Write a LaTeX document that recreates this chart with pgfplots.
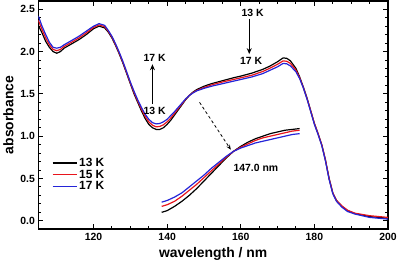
\documentclass[border=0pt]{standalone}
\usepackage{fontspec}
\setmainfont{Liberation Sans}
\usepackage{pgfplots}
\pgfplotsset{compat=1.18}
\usetikzlibrary{arrows.meta}
\definecolor{cA}{HTML}{000000}
\definecolor{cB}{HTML}{E8141C}
\definecolor{cC}{HTML}{2424D8}

\begin{document}
\begin{tikzpicture}
\begin{axis}[
  width=352pt, height=230pt, scale only axis,
  xmin=105, xmax=200, ymin=-0.1, ymax=2.6,
  xtick={120,140,160,180,200}, minor x tick num=3,
  ytick={0,0.5,1,1.5,2,2.5}, minor y tick num=4,
  tick align=inside, major tick length=5pt, minor tick length=3pt,
  axis line style={line width=1.6pt},
  every tick/.style={black, line width=1pt},
  xlabel={wavelength / nm}, ylabel={absorbance},
  label style={font=\bfseries\fontsize{14}{16}\selectfont},
  ticklabel style={font=\bfseries\fontsize{10.5}{12}\selectfont},
  /pgf/number format/assume math mode=true,
  yticklabel style={/pgf/number format/.cd, fixed, fixed zerofill, precision=1},
  xticklabel style={/pgf/number format/.cd, fixed, precision=0},
  legend style={at={(0.03,0.33)}, anchor=north west, draw=none, fill=none,
    font=\bfseries\fontsize{12}{14}\selectfont, row sep=-2pt},
  legend image code/.code={\draw[#1, line width=1.3pt] (0pt,0pt) -- (24pt,0pt);},
  legend cell align=left,
  every axis plot/.append style={line width=1.2pt},
]
% main spectra
\addplot[cA] table {
105 2.31
106 2.22
107 2.12
108 2.05
109 2.00
110 1.98
111 2.00
112 2.04
114 2.09
116 2.14
118 2.20
120 2.27
121.5 2.30
123 2.28
124 2.23
125 2.16
126 2.07
127 1.97
128 1.86
129 1.74
130 1.62
131 1.50
132 1.40
133 1.30
134 1.21
135 1.14
136 1.10
137 1.08
138 1.08
139 1.10
140 1.14
141 1.19
142 1.25
143 1.31
144 1.37
145 1.43
146 1.48
147 1.52
148 1.55
150 1.59
152 1.62
155 1.655
158 1.69
160 1.71
163 1.745
166 1.79
168 1.83
170 1.88
171.5 1.925
172.5 1.92
173.5 1.89
175 1.80
176 1.70
177 1.58
178 1.45
179 1.30
180 1.15
181 1.03
182 0.90
183 0.72
184 0.50
185 0.33
186 0.24
187.5 0.17
189 0.12
191 0.085
195 0.05
200 0.03
};
\addlegendentry{13 K}
\addplot[cB] table {
105 2.37
106 2.26
107 2.16
108 2.08
109 2.025
110 2.01
111 2.025
112 2.06
114 2.11
116 2.16
118 2.22
120 2.285
121.5 2.315
123 2.295
124 2.24
125 2.17
126 2.08
127 1.98
128 1.87
129 1.75
130 1.63
131 1.515
132 1.415
133 1.32
134 1.235
135 1.17
136 1.13
137 1.11
138 1.115
139 1.135
140 1.17
141 1.215
142 1.27
143 1.325
144 1.38
145 1.435
146 1.48
147 1.515
148 1.54
150 1.575
152 1.605
155 1.64
158 1.67
160 1.69
163 1.72
166 1.765
168 1.805
170 1.85
171.5 1.89
172.5 1.885
173.5 1.86
175 1.78
176 1.69
177 1.575
178 1.445
179 1.30
180 1.15
181 1.03
182 0.90
183 0.72
184 0.50
185 0.33
186 0.24
187.5 0.175
189 0.125
191 0.09
195 0.06
200 0.04
};
\addlegendentry{15 K}
\addplot[cC] table {
105 2.42
106 2.30
107 2.20
108 2.11
109 2.05
110 2.04
111 2.05
112 2.08
114 2.13
116 2.18
118 2.24
120 2.30
121.5 2.33
123 2.31
124 2.25
125 2.18
126 2.09
127 1.99
128 1.88
129 1.76
130 1.64
131 1.53
132 1.43
133 1.34
134 1.26
135 1.20
136 1.16
137 1.145
138 1.15
139 1.17
140 1.20
141 1.245
142 1.29
143 1.34
144 1.39
145 1.44
146 1.48
147 1.51
148 1.535
150 1.565
152 1.59
155 1.62
158 1.65
160 1.67
163 1.70
166 1.74
168 1.78
170 1.82
171.5 1.86
172.5 1.855
173.5 1.83
175 1.76
176 1.68
177 1.57
178 1.44
179 1.29
180 1.14
181 1.02
182 0.89
183 0.71
184 0.49
185 0.32
186 0.23
187.5 0.16
189 0.11
191 0.08
195 0.04
200 0.02
};
\addlegendentry{17 K}
% expanded copy below
\addplot[cA, forget plot] table {
138.5 0.10
140 0.12
142 0.17
144 0.23
146 0.30
148 0.38
150 0.47
152 0.56
154 0.65
156 0.74
158 0.82
160 0.88
162 0.93
164 0.97
166 1.00
168 1.03
170 1.05
172 1.07
174 1.08
176 1.09
};
\addplot[cB, forget plot] table {
138.5 0.17
140 0.19
142 0.23
144 0.29
146 0.36
148 0.43
150 0.51
152 0.59
154 0.67
156 0.75
158 0.82
160 0.87
162 0.91
164 0.95
166 0.98
168 1.00
170 1.02
172 1.04
174 1.06
176 1.07
};
\addplot[cC, forget plot] table {
138.5 0.22
140 0.24
142 0.28
144 0.33
146 0.40
148 0.47
150 0.54
152 0.62
154 0.69
156 0.76
158 0.82
160 0.86
162 0.89
164 0.92
166 0.94
168 0.96
170 0.98
172 1.00
174 1.02
176 1.03
};
% annotations
\begin{scope}[font=\bfseries\fontsize{10.5}{12}\selectfont]
\node at (axis cs:163.2,2.46) {13 K};
\draw[line width=1pt, -{Stealth[length=6pt,width=5pt]}] (axis cs:162.3,2.39) -- (axis cs:162.3,1.97);
\node at (axis cs:162.8,1.89) {17 K};
\node at (axis cs:136.6,1.93) {17 K};
\draw[line width=1pt, -{Stealth[length=6pt,width=5pt]}] (axis cs:136.0,1.38) -- (axis cs:136.0,1.85);
\node at (axis cs:136.6,1.30) {13 K};
\draw[line width=0.8pt, dash pattern=on 3pt off 2.5pt, -{Stealth[length=5pt,width=4pt]}] (axis cs:148.8,1.40) -- (axis cs:157.3,0.84);
\node at (axis cs:164.1,0.63) {147.0 nm};
\end{scope}
\end{axis}
\end{tikzpicture}
\end{document}
